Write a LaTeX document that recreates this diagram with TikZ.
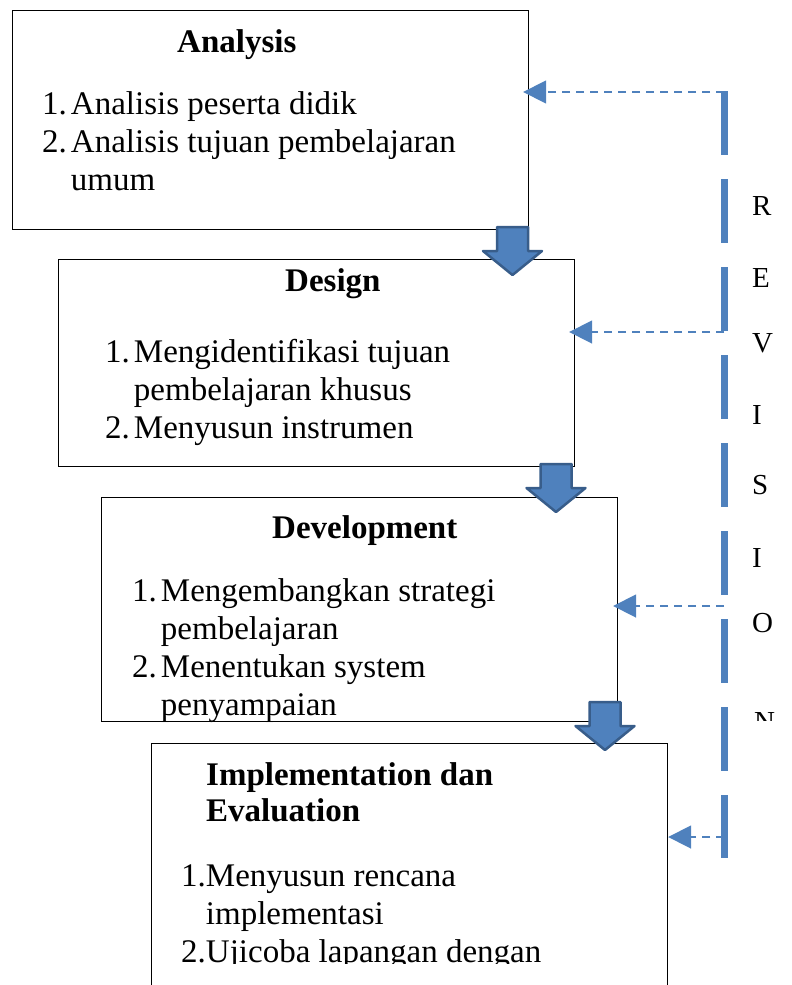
\documentclass[tikz,border=0pt]{standalone}
\usepackage{fontspec}
\setmainfont{Liberation Serif}
\usetikzlibrary{arrows.meta, calc}
\usepackage{xcolor}
\definecolor{accentBlue}{RGB}{79, 129, 189}
\definecolor{accentBlueDark}{RGB}{56, 93, 138}

% numbered list set as a two column table
\newcommand{\itemlist}[2]{\begin{tabular}[t]{@{}r@{\hspace{#1}}l@{}}#2\end{tabular}}
% downward block arrow from its top centre
\newcommand{\blockarrow}[1]{%
  \draw [blockarrow] (#1) ++(-15.5,0) -- ++(0,24) -- ++(-14,0) -- ++(29.5,24)
    -- ++(29.5,-24) -- ++(-14,0) -- ++(0,-24) -- cycle;}

\begin{document}
\begin{tikzpicture}
    [
		x=1pt, y=-1pt,
		stage/.style={
			draw, line width=1.2pt, fill=white, anchor=north west,
			minimum width=516pt, inner sep=0
		},
		titletext/.style={
			font=\fontsize{33}{36}\selectfont\bfseries, inner sep=0, anchor=base west
		},
		listtext/.style={
			font=\fontsize{33}{38}\selectfont, inner sep=0, anchor=base west
		},
		lettertext/.style={
			font=\fontsize{29}{34}\selectfont, inner sep=0, anchor=base west
		},
		blockarrow/.style={
			draw=accentBlueDark, line width=2.5pt, line join=round, fill=accentBlue
		},
		revline/.style={
			draw=accentBlue, line width=7pt, dash pattern=on 64pt off 24pt
		},
		revarrow/.style={
			draw=accentBlue, line width=1.8pt, dash pattern=on 8pt off 6pt,
			-{Triangle[length=23pt, width=23pt]}
		}
	]
\useasboundingbox (0,0) rectangle (792,985);
\clip (0,0) rectangle (792,985);

% Boxes
\node (analysis) [stage, minimum height=219pt] at (12,10) {};
\node (design) [stage, minimum height=207pt] at (58,259) {};
\node (develop) [stage, minimum height=224pt] at (101,497) {};
\node (implement) [stage, minimum height=260pt] at (151,743) {};

% Texts
\node (atitle) [titletext] at (177,52) {Analysis};
\node (alist) [listtext] at (42,114) {\itemlist{4pt}{%
	1. & Analisis peserta didik\\
	2. & Analisis tujuan pembelajaran\\
	   & umum}};

\node (dtitle) [titletext] at (285,291) {Design};
\node (dlist) [listtext] at (105,362) {\itemlist{4pt}{%
	1. & Mengidentifikasi tujuan\\
	   & pembelajaran khusus\\
	2. & Menyusun instrumen}};

\node (vtitle) [titletext] at (272,538) {Development};
\node (vlist) [listtext] at (132,601) {\itemlist{4pt}{%
	1. & Mengembangkan strategi\\
	   & pembelajaran\\
	2. & Menentukan system\\
	   & penyampaian}};

% base of a two line node sits on its last line
\node (ititle) [titletext, align=left] at (206,821) {Implementation dan\\Evaluation};
\begin{scope}
	\clip (150,740) rectangle (670,963);
	\node (ilist) [listtext] at (181,886) {\itemlist{0pt}{%
		1. & Menyusun rencana\\
		   & implementasi\\
		2. & Ujicoba lapangan dengan}};
\end{scope}

% Revision letters
\foreach \letter/\ypos [count=\i] in {R/215, E/287, V/352, I/424, S/494, I/567, O/632}
	\node (rev\i) [lettertext] at (752,\ypos) {\letter};
\begin{scope}
	\clip (740,700) rectangle (792,720);
	\node (rev8) [lettertext] at (754,731) {N};
\end{scope}

% Block arrows
\coordinate (a1) at (512.5,227);
\coordinate (a2) at (556,464);
\coordinate (a3) at (605,702);
\blockarrow{a1}
\blockarrow{a2}
\blockarrow{a3}

% Revision line
\coordinate (revtop) at (724,91);
\coordinate (revbot) at (724,858);
\draw [revline] (revtop) -- (revbot);

\coordinate (r1) at (724,92);
\coordinate (r2) at (724,332);
\coordinate (r3) at (724,606);
\coordinate (r4) at (724,837);
\draw [revarrow, shorten >=-6pt] (r1) -- (analysis.east |- r1);
\draw [revarrow, shorten >=-6pt] (r2) -- (design.east |- r2);
\draw [revarrow, shorten >=-5pt] (r3) -- (develop.east |- r3);
\draw [revarrow] (r4) -- (implement.east |- r4);

\end{tikzpicture}
\end{document}
